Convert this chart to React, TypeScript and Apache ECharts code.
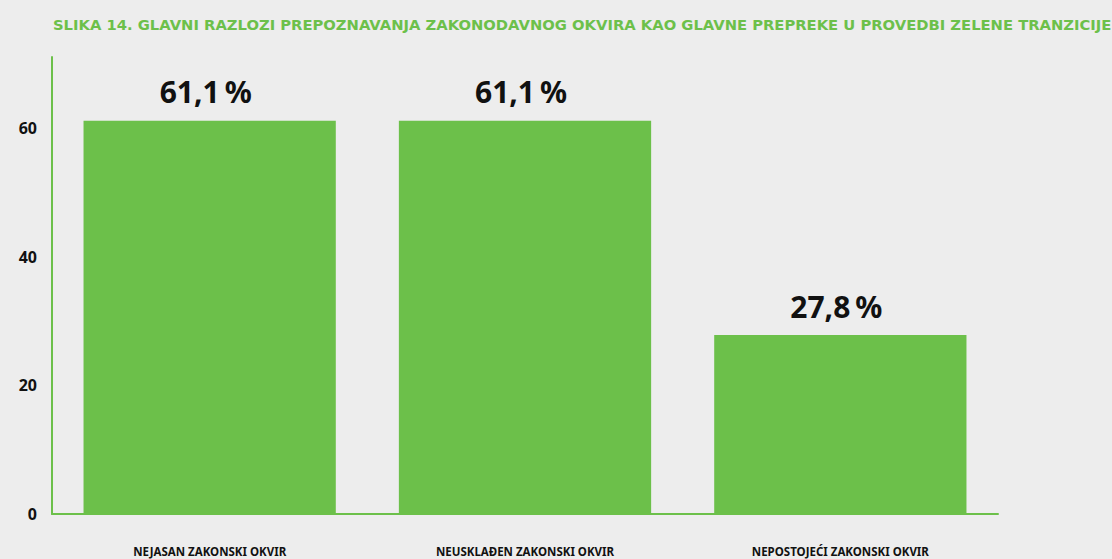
import React, { useEffect, useRef } from "react";
import * as echarts from "echarts";

const titleText =
  "SLIKA 14. GLAVNI RAZLOZI PREPOZNAVANJA ZAKONODAVNOG OKVIRA KAO GLAVNE PREPREKE U PROVEDBI ZELENE TRANZICIJE";
const categories = [
  "NEJASAN ZAKONSKI OKVIR",
  "NEUSKLAĐEN ZAKONSKI OKVIR",
  "NEPOSTOJEĆI ZAKONSKI OKVIR",
];
const values = [61.1, 61.1, 27.8];

const GREEN = "#6cc04a";
const BG = "#ededed";
const FONT = "'Noto Sans', 'Open Sans', sans-serif";

export default function App() {
  const ref = useRef<HTMLDivElement>(null);
  useEffect(() => {
    document.body.style.margin = "0";
    const chart = echarts.init(ref.current!, null, { renderer: "svg" });
    chart.setOption({
      animation: false,
      backgroundColor: BG,
      title: {
        text: titleText,
        left: 48,
        top: 12,
        textStyle: {
          color: GREEN,
          fontFamily: "'DejaVu Sans', sans-serif",
          fontWeight: "bold",
          fontSize: 14.75,
        },
      },
      grid: { left: 52, right: 114, top: 57, bottom: 45, containLabel: false },
      xAxis: {
        type: "category",
        data: categories,
        axisLine: { lineStyle: { color: GREEN, width: 2 } },
        axisTick: { show: false },
        axisLabel: {
          color: "#111",
          fontFamily: FONT,
          fontWeight: "bold",
          fontSize: 11.5,
          margin: 31,
        },
      },
      yAxis: {
        type: "value",
        min: 0,
        max: 71,
        interval: 20,
        axisLine: { show: true, lineStyle: { color: GREEN, width: 2 } },
        axisTick: { show: false },
        splitLine: { show: false },
        axisLabel: {
          showMaxLabel: false,
          color: "#111",
          fontFamily: FONT,
          fontWeight: "bold",
          fontSize: 16,
          margin: 15,
        },
      },
      series: [
        {
          type: "bar",
          data: values,
          barWidth: "80%",
          itemStyle: { color: GREEN },
          label: {
            show: true,
            position: "top",
            distance: 14,
            color: "#111",
            fontFamily: FONT,
            fontWeight: "bold",
            fontSize: 30,
            offset: [-4, 0],
            formatter: (p: any) => p.value.toFixed(1).replace(".", ",") + "\u202F%",
          },
        },
      ],
    });
    return () => chart.dispose();
  }, []);
  return <div ref={ref} style={{ width: 1112, height: 559 }} />;
}
